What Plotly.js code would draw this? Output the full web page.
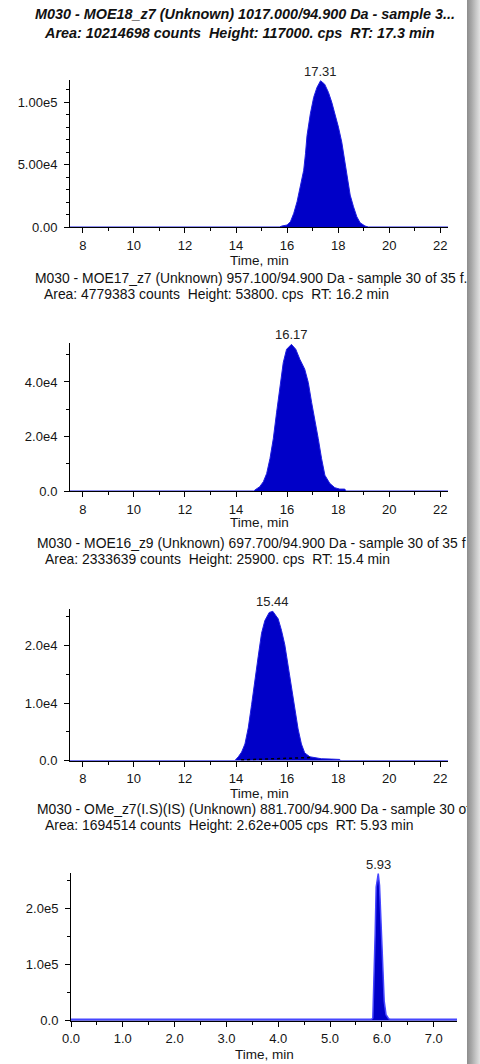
<!DOCTYPE html>
<html>
<head>
<meta charset="utf-8">
<script src="https://cdn.plot.ly/plotly-3.0.1.min.js"></script>
<style>
  html, body { margin: 0; padding: 0; background: #ffffff; }
  #wrap { position: relative; width: 480px; height: 1064px; overflow: hidden; }
  #chart { position: absolute; left: 0; top: 0; width: 480px; height: 1064px; }
  #shadow { position: absolute; left: 467px; top: 0; width: 13px; height: 1064px;
            background: linear-gradient(to right, #8c8c8c 0%, #a8a8a8 35%, #c8c8c8 70%, #e2e2e2 100%); }
</style>
</head>
<body>
<div id="wrap"><div id="chart"></div><div id="shadow"></div></div>
<script>
// ---- Panel 1: MOE18_z7 ----
const t1 = [7.5, 15.7, 15.8, 16.0, 16.13, 16.26, 16.39, 16.52, 16.65, 16.72, 16.78, 16.91, 17.04, 17.17, 17.31, 17.47, 17.62, 17.75, 17.88, 18.01, 18.14, 18.25, 18.34, 18.47, 18.60, 18.73, 18.86, 19.05, 19.18, 22.3];
const i1 = [0, 0, 800, 1600, 4200, 10900, 20200, 32100, 45400, 58600, 73200, 90500, 103700, 111700, 117000, 114300, 107700, 99700, 90500, 79900, 67900, 53300, 40100, 25500, 16200, 8200, 3400, 800, 0, 0];

// ---- Panel 2: MOE17_z7 ----
const t2 = [7.5, 14.7, 14.74, 14.93, 15.07, 15.20, 15.33, 15.46, 15.59, 15.72, 15.85, 15.98, 16.17, 16.34, 16.50, 16.69, 16.83, 16.96, 17.09, 17.22, 17.35, 17.48, 17.67, 17.87, 18.06, 18.26, 18.3, 22.3];
const i2 = [0, 0, 360, 1600, 3400, 6400, 11900, 19200, 28900, 38600, 47100, 52000, 53800, 52000, 48300, 44700, 39800, 32500, 26500, 19200, 11900, 5800, 2800, 1200, 700, 700, 0, 0];

// ---- Panel 3: MOE16_z9 ----
const t3 = [7.5, 13.95, 14.09, 14.22, 14.35, 14.48, 14.61, 14.74, 14.87, 15.0, 15.13, 15.30, 15.44, 15.65, 15.78, 15.91, 16.04, 16.17, 16.30, 16.43, 16.56, 16.69, 16.89, 17.08, 17.34, 17.73, 18.06, 18.1, 22.3];
const i3 = [0, 0, 680, 1500, 2900, 5700, 9700, 14200, 18100, 22100, 24300, 25700, 25900, 24600, 22600, 20100, 16400, 12500, 8600, 5500, 2900, 1350, 680, 500, 340, 280, 220, 0, 0];
const base3T = [14.2, 16.9];
const base3I = [150, 550];

// ---- Panel 4: OMe_z7(I.S)(IS) ----
const t4 = [0, 5.80, 5.825, 5.85, 5.87, 5.89, 5.92, 5.93, 5.955, 5.98, 6.0, 6.02, 6.045, 6.08, 6.13, 6.16, 7.45];
const i4 = [2500, 2500, 4800, 70600, 154000, 238000, 259000, 262000, 241000, 184000, 118000, 73600, 34700, 10800, 3600, 2500, 2500];

// ---- Labels ----
const rtValues = [17.31, 16.17, 15.44, 5.93];
const rtHeights = [117000, 53800, 25900, 262000];
const rtLabels = ['17.31', '16.17', '15.44', '5.93'];
const headLine1 = [
  'M030 - MOE18_z7 (Unknown) 1017.000/94.900 Da - sample 3...',
  'M030 - MOE17_z7 (Unknown) 957.100/94.900 Da - sample 30 of 35 f.',
  'M030 - MOE16_z9 (Unknown) 697.700/94.900 Da - sample 30 of 35 f',
  'M030 - OMe_z7(I.S)(IS) (Unknown) 881.700/94.900 Da - sample 30 of'
];
const headLine2 = [
  'Area: 10214698 counts\u00a0 Height: 117000. cps\u00a0 RT: 17.3 min',
  'Area: 4779383 counts\u00a0 Height: 53800. cps\u00a0 RT: 16.2 min',
  'Area: 2333639 counts\u00a0 Height: 25900. cps\u00a0 RT: 15.4 min',
  'Area: 1694514 counts\u00a0 Height: 2.62e+005 cps\u00a0 RT: 5.93 min'
];
const xTitle = 'Time, min';
const yTickVals1 = [0, 50000, 100000];
const yTickText1 = ['0.00', '5.00e4', '1.00e5'];
const yTickVals2 = [0, 20000, 40000];
const yTickText2 = ['0.0', '2.0e4', '4.0e4'];
const yTickVals3 = [0, 10000, 20000];
const yTickText3 = ['0.0', '1.0e4', '2.0e4'];
const yTickVals4 = [0, 100000, 200000];
const yTickText4 = ['0.0', '1.0e5', '2.0e5'];

// ---- Drawing ----
const H = 1064, W = 480;
const py = p => 1 - p / H;
const pxx = p => p / W;
const FONT = '"Liberation Sans", Arial, sans-serif';
const FILL = 'rgb(0,0,200)';
const EDGE = 'rgb(30,30,225)';

function peakTrace(t, v, xa, ya, lineColor, lw) {
  return { x: t, y: v, xaxis: xa, yaxis: ya, type: 'scatter', mode: 'lines',
           fill: 'tozeroy', fillcolor: FILL, line: { color: lineColor || EDGE, width: lw || 1 },
           hoverinfo: 'skip', showlegend: false };
}

const data = [
  peakTrace(t1, i1, 'x', 'y'),
  peakTrace(t2, i2, 'x2', 'y2'),
  peakTrace(t3, i3, 'x3', 'y3'),
  { x: base3T, y: base3I, xaxis: 'x3', yaxis: 'y3', type: 'scatter', mode: 'lines',
    line: { color: '#000', width: 1.5, dash: 'dot' }, hoverinfo: 'skip', showlegend: false },
  peakTrace(t4, i4, 'x4', 'y4', 'rgb(70,70,255)', 1.5)
];

function xAxis(domain, range, dtick, minorDtick, fmt, anchor) {
  return { domain: domain, range: range, anchor: anchor, dtick: dtick, tick0: 0, tickmode: 'linear',
           tickformat: fmt, showgrid: false, zeroline: false, showline: true, linecolor: '#000', linewidth: 1,
           ticks: 'outside', ticklen: 5, tickcolor: '#000', tickwidth: 1,
           tickfont: { family: FONT, size: 13, color: '#151515' }, ticklabelstandoff: 1,
           minor: { ticks: 'outside', ticklen: 3, dtick: minorDtick, tick0: 0, tickcolor: '#000', showgrid: false },
           fixedrange: true };
}
function yAxis(domain, range, tv, tt, minorDtick, anchor) {
  return { domain: domain, range: range, anchor: anchor, tickmode: 'array', tickvals: tv, ticktext: tt,
           showgrid: false, zeroline: false, showline: true, linecolor: '#000', linewidth: 1,
           ticks: 'outside', ticklen: 5, tickcolor: '#000', tickwidth: 1,
           tickfont: { family: FONT, size: 13, color: '#151515' }, ticklabelstandoff: 4,
           minor: { ticks: 'outside', ticklen: 3, tickmode: 'linear', dtick: minorDtick, tick0: 0, tickcolor: '#000', showgrid: false },
           fixedrange: true };
}

const xd = [pxx(70), pxx(448)];
const xd4 = [pxx(71), pxx(457)];

const layout = {
  width: W, height: H,
  margin: { l: 0, r: 0, t: 0, b: 0 },
  paper_bgcolor: '#ffffff', plot_bgcolor: '#ffffff',
  showlegend: false,
  font: { family: FONT },
  xaxis: xAxis(xd, [7.5, 22.3], 2, 1, 'd', 'y'),
  yaxis: yAxis([py(227), py(79.5)], [0, 118000], yTickVals1, yTickText1, 10000, 'x'),
  xaxis2: xAxis(xd, [7.5, 22.3], 2, 1, 'd', 'y2'),
  yaxis2: yAxis([py(491), py(343)], [0, 54300], yTickVals2, yTickText2, 10000, 'x2'),
  xaxis3: xAxis(xd, [7.5, 22.3], 2, 1, 'd', 'y3'),
  yaxis3: yAxis([py(760.7), py(609)], [0, 26300], yTickVals3, yTickText3, 5000, 'x3'),
  xaxis4: xAxis(xd4, [0, 7.45], 1, 0.5, '.1f', 'y4'),
  yaxis4: yAxis([py(1020.7), py(873)], [0, 263000], yTickVals4, yTickText4, 50000, 'x4'),
  annotations: []
};

const headY1 = [14, 277.7, 542.7, 809.3];
const headY2 = [33, 294.3, 559.3, 825];
const headX1 = [33, 33, 35, 35];
const headX2 = [42, 42, 43, 43];
for (let k = 0; k < 4; k++) {
  const bold = k === 0;
  layout.annotations.push({
    xref: 'paper', yref: 'paper', x: pxx(headX1[k]), y: py(headY1[k]), xanchor: 'left', yanchor: 'middle',
    text: bold ? '<b><i>' + headLine1[k] + '</i></b>' : headLine1[k], showarrow: false,
    font: { family: FONT, size: bold ? 14.4 : 13.9, color: '#111' }
  });
  layout.annotations.push({
    xref: 'paper', yref: 'paper', x: pxx(headX2[k]), y: py(headY2[k]), xanchor: 'left', yanchor: 'middle',
    text: bold ? '<b><i>' + headLine2[k] + '</i></b>' : headLine2[k], showarrow: false,
    font: { family: FONT, size: bold ? 14.4 : 13.9, color: '#111' }
  });
}
const timeY = [260, 522.7, 793, 1054];
const timeX = [259, 259, 259, 264];
for (let k = 0; k < 4; k++) {
  layout.annotations.push({
    xref: 'paper', yref: 'paper', x: pxx(timeX[k]), y: py(timeY[k]), xanchor: 'center', yanchor: 'middle',
    text: xTitle, showarrow: false, font: { family: FONT, size: 13.5, color: '#151515' }
  });
}
const axNames = ['', '2', '3', '4'];
for (let k = 0; k < 4; k++) {
  layout.annotations.push({
    xref: 'x' + axNames[k], yref: 'y' + axNames[k], x: rtValues[k], y: rtHeights[k],
    xanchor: 'center', yanchor: 'bottom', yshift: 0,
    text: rtLabels[k], showarrow: false, font: { family: FONT, size: 13, color: '#222' }
  });
}

Plotly.newPlot('chart', data, layout, { displayModeBar: false, staticPlot: true });
</script>
</body>
</html>
